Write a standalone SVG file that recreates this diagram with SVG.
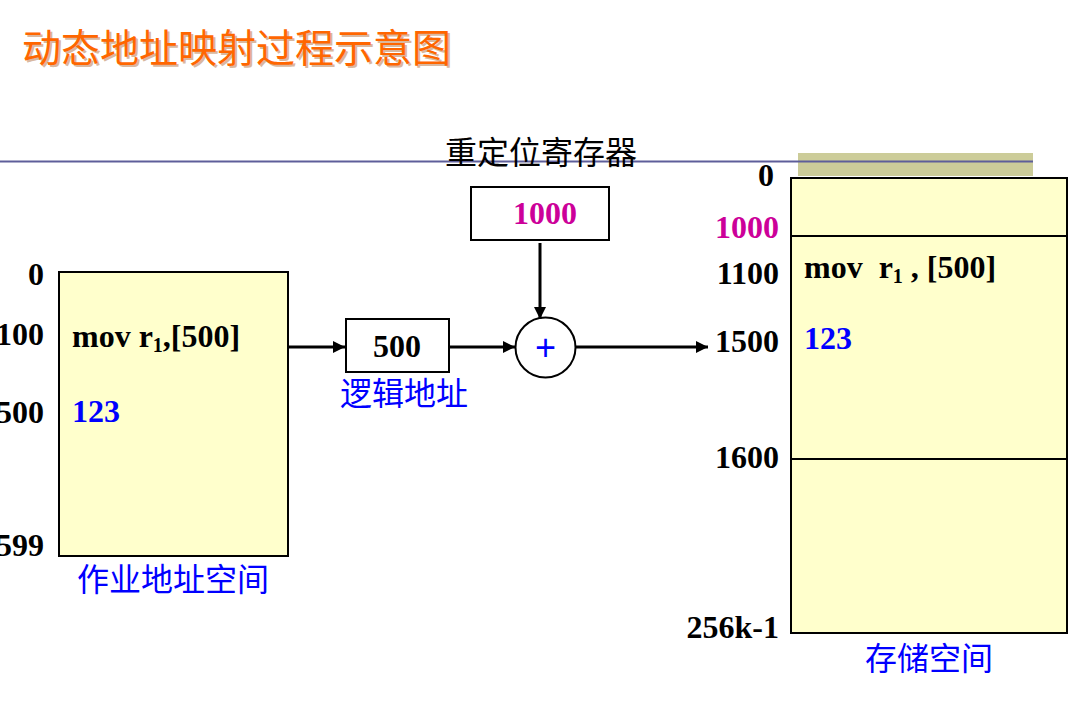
<svg xmlns="http://www.w3.org/2000/svg" width="1079" height="728" viewBox="0 0 1079 728">
  <style>
    .num { font-family: "Liberation Serif", "Times New Roman", serif; font-weight: bold; font-size: 32px; fill: #000; }
    .blue { fill: #0000FF; }
    .mag { fill: #CC0099; }
    .cjk { font-family: "Noto Sans CJK SC", "Noto Sans CJK JP", sans-serif; font-size: 32px; fill: #0000FF; }
    .mem { fill: #FFFFCC; stroke: #000; stroke-width: 2; }
    .box { fill: #FFFFFF; stroke: #000; stroke-width: 2; }
    .wire { stroke: #000; stroke-width: 3; fill: none; }
  </style>
  <defs>
    <marker id="arrow" viewBox="0 0 10 10" refX="10" refY="5" markerWidth="4.2" markerHeight="4" markerUnits="strokeWidth" orient="auto">
      <path d="M0,0 L10,5 L0,10 z" fill="#000"/>
    </marker>
  </defs>

  <rect width="1079" height="728" fill="#FFFFFF"/>

  <!-- title -->
  <g id="title" font-family="Noto Sans CJK SC, Noto Sans CJK JP, sans-serif" font-size="39">
    <text x="24" y="64" fill="#D9B8A0">动态地址映射过程示意图</text>
    <text x="22" y="62" fill="#FF6600">动态地址映射过程示意图</text>
  </g>

  <!-- header band and rule -->
  <rect x="798" y="153" width="235" height="23" fill="#CCCC99"/>
  <line x1="0" y1="161.5" x2="1033" y2="161.5" stroke="#5E5E9A" stroke-width="2"/>

  <!-- relocation register -->
  <g id="register">
    <text x="541" y="164" text-anchor="middle" font-family="Noto Sans CJK SC, Noto Sans CJK JP, sans-serif" font-size="32" fill="#000">重定位寄存器</text>
    <rect class="box" x="471" y="187" width="138" height="53"/>
    <text class="num mag" x="545" y="224" text-anchor="middle">1000</text>
  </g>

  <!-- logical address -->
  <g id="logical">
    <rect class="box" x="346" y="319" width="103" height="53"/>
    <text class="num" x="397" y="357" text-anchor="middle">500</text>
    <text class="cjk" x="340" y="405">逻辑地址</text>
  </g>

  <!-- adder -->
  <g id="adder">
    <circle cx="545.5" cy="347.5" r="30" fill="#FFFFFF" stroke="#000" stroke-width="2"/>
    <text x="545.5" y="360" text-anchor="middle" font-family="Liberation Sans, Arial, sans-serif" font-size="36" fill="#0000FF">+</text>
  </g>

  <!-- job address space -->
  <g id="job-space">
    <rect class="mem" x="59" y="272" width="229" height="284"/>
    <text class="num" x="44" y="285" text-anchor="end">0</text>
    <text class="num" x="44" y="345" text-anchor="end">100</text>
    <text class="num" x="44" y="423" text-anchor="end">500</text>
    <text class="num" x="44" y="556" text-anchor="end">599</text>
    <text class="num" x="72" y="347">mov r<tspan font-size="20" dy="5">1</tspan><tspan dy="-5">,[500]</tspan></text>
    <text class="num blue" x="72" y="422">123</text>
    <text class="cjk" x="77" y="591">作业地址空间</text>
  </g>

  <!-- memory space -->
  <g id="memory">
    <rect class="mem" x="791" y="178" width="276" height="455"/>
    <line x1="791" y1="236" x2="1067" y2="236" stroke="#000" stroke-width="2"/>
    <line x1="791" y1="459" x2="1067" y2="459" stroke="#000" stroke-width="2"/>
    <text class="num" x="774" y="186" text-anchor="end">0</text>
    <text class="num mag" x="779" y="238" text-anchor="end">1000</text>
    <text class="num" x="779" y="284" text-anchor="end">1100</text>
    <text class="num" x="779" y="352" text-anchor="end">1500</text>
    <text class="num" x="779" y="468" text-anchor="end">1600</text>
    <text class="num" x="779" y="638" text-anchor="end">256k-1</text>
    <text class="num" x="804" y="278" xml:space="preserve">mov  r<tspan font-size="20" dy="5">1</tspan><tspan dy="-5"> , [500]</tspan></text>
    <text class="num blue" x="804" y="349">123</text>
    <text class="cjk" x="865" y="670">存储空间</text>
  </g>

  <!-- connectors -->
  <g id="connectors">
    <line class="wire" x1="288" y1="347" x2="345" y2="347" marker-end="url(#arrow)"/>
    <line class="wire" x1="449" y1="347" x2="515" y2="347" marker-end="url(#arrow)"/>
    <line class="wire" x1="540" y1="243" x2="540" y2="319" marker-end="url(#arrow)"/>
    <line class="wire" x1="576" y1="347" x2="708" y2="347" marker-end="url(#arrow)"/>
  </g>
</svg>
